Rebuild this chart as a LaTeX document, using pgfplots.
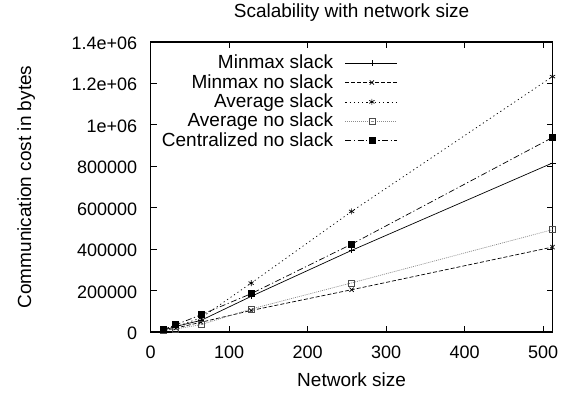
\documentclass[border=0pt]{standalone}
\usepackage{fontspec}
\setmainfont{Liberation Sans}
\usepackage{pgfplots}
\pgfplotsset{compat=1.18}
\usetikzlibrary{calc}
\definecolor{avgno}{gray}{0.55}
\definecolor{avgnomark}{gray}{0.3}
\begin{document}
\begin{tikzpicture}
\begin{axis}[
  name=ax,
  scale only axis,
  width=401.8pt, height=290pt,
  xmin=0, xmax=512, ymin=0, ymax=1400000,
  xtick={0,100,200,300,400,500},
  ytick={0,200000,400000,600000,800000,1000000,1200000,1400000},
  yticklabels={0,200000,400000,600000,800000,1e+06,1.2e+06,1.4e+06},
  scaled y ticks=false,
  /pgf/number format/assume math mode=true,
  tick align=inside,
  major tick length=6pt,
  minor tick num=0,
  axis line style={line width=1.1pt},
  tick style={line width=0.8pt, black},
  ticklabel style={font=\fontsize{18}{21}\selectfont},
  xticklabel style={anchor=base, inner sep=0pt, yshift=-26pt},
  yticklabel style={anchor=base east, inner sep=0pt, xshift=-13.4pt, yshift=-7.5pt},
  every axis title shift=0pt,
  title={Scalability with network size},
  title style={font=\fontsize{19}{22}\selectfont, at={(axis description cs:0.5,1.083)}, anchor=base, inner sep=0pt},
  xlabel={Network size},
  xlabel style={font=\fontsize{19}{22}\selectfont, at={(axis description cs:0.5,-0.188)}, anchor=base, inner sep=0pt},
  ylabel={Communication cost in bytes},
  ylabel style={font=\fontsize{19}{22}\selectfont, at={(axis description cs:-0.2979,0.5)}, anchor=base, inner sep=0pt},
  legend plot pos=right,
  legend style={draw=none, fill=none, inner sep=0pt, row sep=0pt, column sep=0pt,
    at={(axis description cs:0.6155,0.961)}, anchor=north east,
    font=\fontsize{19}{22}\selectfont,
    nodes={inner sep=0pt, text height=15.27pt, text depth=4.08pt}},
  legend cell align=right,
  legend image code/.code={%
    \path[draw=none, fill=none] (0pt,0pt) -- (64.4pt,0pt);
    \draw[mark repeat=2,mark phase=2] plot coordinates {(12.4pt,0pt)(38.8pt,0pt)(64.4pt,0pt)};},
  every axis plot/.append style={line width=0.7pt, mark size=3pt},
]
\addplot[black, solid, mark=+, mark options={solid, line width=0.7pt}] coordinates {
  (16,8000) (32,27000) (64,56000) (128,172000) (256,394000) (512,816000)};
\addlegendentry{Minmax slack}
\addplot[black, dash pattern=on 4pt off 2pt, mark=x, mark options={solid, line width=0.7pt}] coordinates {
  (16,6400) (32,19000) (64,47000) (128,104000) (256,204000) (512,410000)};
\addlegendentry{Minmax no slack}
\addplot[black, dash pattern=on 1.2pt off 3pt, mark=asterisk, mark options={solid, line width=0.7pt}] coordinates {
  (16,10000) (32,26000) (64,68000) (128,236000) (256,582000) (512,1233000)};
\addlegendentry{Average slack}
\addplot[avgno, dash pattern=on 1pt off 1pt, mark=square, mark options={solid, avgnomark, line width=0.7pt}] coordinates {
  (16,6400) (32,14500) (64,35400) (128,111000) (256,237000) (512,494000)};
\addlegendentry{Average no slack}
\addplot[black, dash pattern=on 6pt off 2.5pt on 1.2pt off 2.5pt, mark=square*, mark options={solid, fill=black}] coordinates {
  (16,11300) (32,35000) (64,83000) (128,185000) (256,424000) (512,939000)};
\addlegendentry{Centralized no slack}
\end{axis}
\pgfresetboundingbox
\path ([shift={(-150.7pt,-65pt)}]ax.south west) rectangle ([shift={(21.5pt,42pt)}]ax.north east);
\end{tikzpicture}
\end{document}
